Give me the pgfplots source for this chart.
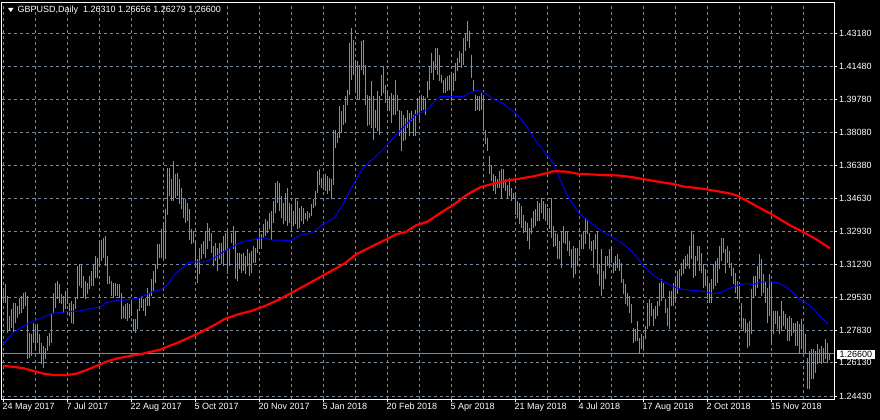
\documentclass[border=0pt]{standalone}
\usepackage{pgfplots}
\usepackage{pgfplotstable}
\pgfplotsset{compat=1.18}
\usepackage{fontspec}
\setmainfont{Liberation Sans}
\definecolor{gridc}{RGB}{119,136,153}
\definecolor{barc}{RGB}{50,205,50}
\definecolor{maB}{RGB}{0,0,255}
\definecolor{maR}{RGB}{255,0,0}
\pgfplotstableread{
i h l
0 1.3002 1.2928
1 1.3019 1.2921
2 1.2959 1.2770
3 1.2856 1.2778
4 1.2890 1.2796
5 1.2925 1.2770
6 1.2925 1.2821
7 1.2907 1.2847
8 1.2950 1.2864
9 1.2959 1.2873
10 1.2976 1.2890
11 1.2981 1.2907
12 1.2959 1.2632
13 1.2770 1.2641
14 1.2761 1.2649
15 1.2821 1.2718
16 1.2804 1.2684
17 1.2813 1.2718
18 1.2761 1.2667
19 1.2718 1.2606
20 1.2701 1.2589
21 1.2692 1.2632
22 1.2753 1.2675
23 1.2770 1.2701
24 1.2873 1.2718
25 1.2976 1.2873
26 1.3028 1.2899
27 1.3036 1.2942
28 1.3019 1.2925
29 1.2968 1.2916
30 1.2959 1.2873
31 1.2985 1.2890
32 1.2993 1.2916
33 1.2925 1.2856
34 1.2933 1.2821
35 1.2916 1.2813
36 1.2950 1.2890
37 1.3114 1.2942
38 1.3122 1.3011
39 1.3122 1.3002
40 1.3062 1.2950
41 1.3036 1.2942
42 1.3028 1.2968
43 1.3062 1.2993
44 1.3088 1.3011
45 1.3122 1.3011
46 1.3165 1.3054
47 1.3157 1.3054
48 1.3243 1.3114
49 1.3251 1.3140
50 1.3260 1.3157
51 1.3269 1.3114
52 1.3165 1.3019
53 1.3062 1.3019
54 1.3036 1.2959
55 1.3028 1.2950
56 1.3028 1.2959
57 1.3019 1.2959
58 1.3019 1.2950
59 1.2976 1.2839
60 1.2907 1.2847
61 1.2916 1.2839
62 1.2925 1.2830
63 1.2916 1.2847
64 1.2925 1.2856
65 1.2839 1.2778
66 1.2839 1.2770
67 1.2890 1.2787
68 1.2950 1.2882
69 1.2959 1.2899
70 1.2942 1.2882
71 1.2950 1.2856
72 1.3002 1.2907
73 1.2976 1.2907
74 1.3045 1.2959
75 1.3088 1.2985
76 1.3122 1.3028
77 1.3226 1.3097
78 1.3226 1.3157
79 1.3303 1.3157
80 1.3337 1.3148
81 1.3406 1.3148
82 1.3621 1.3380
83 1.3621 1.3475
84 1.3561 1.3449
85 1.3656 1.3449
86 1.3587 1.3466
87 1.3595 1.3475
88 1.3561 1.3432
89 1.3518 1.3406
90 1.3466 1.3363
91 1.3458 1.3337
92 1.3441 1.3346
93 1.3406 1.3251
94 1.3303 1.3226
95 1.3294 1.3234
96 1.3251 1.3105
97 1.3148 1.3028
98 1.3208 1.3071
99 1.3226 1.3148
100 1.3243 1.3174
101 1.3294 1.3157
102 1.3337 1.3200
103 1.3312 1.3243
104 1.3286 1.3183
105 1.3217 1.3114
106 1.3234 1.3140
107 1.3208 1.3088
108 1.3234 1.3148
109 1.3234 1.3122
110 1.3269 1.3114
111 1.3286 1.3191
112 1.3294 1.3071
113 1.3200 1.3114
114 1.3286 1.3234
115 1.3320 1.3200
116 1.3294 1.3045
117 1.3183 1.3037
118 1.3183 1.3097
119 1.3174 1.3080
120 1.3183 1.3088
121 1.3165 1.3071
122 1.3200 1.3114
123 1.3183 1.3062
124 1.3191 1.3080
125 1.3217 1.3131
126 1.3208 1.3131
127 1.3260 1.3183
128 1.3312 1.3217
129 1.3277 1.3200
130 1.3329 1.3260
131 1.3355 1.3269
132 1.3346 1.3286
133 1.3389 1.3303
134 1.3398 1.3251
135 1.3449 1.3337
136 1.3544 1.3389
137 1.3553 1.3441
138 1.3544 1.3398
139 1.3475 1.3363
140 1.3441 1.3329
141 1.3492 1.3346
142 1.3518 1.3320
143 1.3441 1.3337
144 1.3432 1.3312
145 1.3398 1.3320
146 1.3466 1.3329
147 1.3449 1.3303
148 1.3415 1.3312
149 1.3423 1.3346
150 1.3415 1.3329
151 1.3389 1.3355
152 1.3398 1.3346
153 1.3389 1.3363
154 1.3432 1.3372
155 1.3458 1.3415
156 1.3501 1.3423
157 1.3604 1.3492
158 1.3613 1.3535
159 1.3570 1.3518
160 1.3578 1.3509
161 1.3587 1.3501
162 1.3578 1.3484
163 1.3570 1.3501
164 1.3561 1.3458
165 1.3819 1.3535
166 1.3819 1.3724
167 1.3802 1.3750
168 1.3939 1.3776
169 1.3914 1.3802
170 1.3948 1.3845
171 1.3991 1.3853
172 1.4025 1.3948
173 1.4266 1.3999
174 1.4344 1.4077
175 1.4283 1.4103
176 1.4163 1.4025
177 1.4172 1.3974
178 1.4154 1.3974
179 1.4275 1.4129
180 1.4283 1.4103
181 1.4154 1.3948
182 1.3999 1.3836
183 1.3991 1.3845
184 1.4068 1.3828
185 1.3991 1.3767
186 1.3922 1.3828
187 1.4017 1.3810
188 1.3991 1.3793
189 1.4103 1.3991
190 1.4146 1.4008
191 1.4051 1.3957
192 1.4017 1.3914
193 1.3991 1.3914
194 1.4008 1.3853
195 1.3999 1.3896
196 1.4077 1.3896
197 1.3999 1.3914
198 1.3922 1.3785
199 1.3914 1.3707
200 1.3896 1.3759
201 1.3879 1.3767
202 1.3922 1.3828
203 1.3905 1.3785
204 1.3914 1.3862
205 1.3896 1.3785
206 1.3922 1.3785
207 1.3982 1.3896
208 1.3991 1.3862
209 1.3999 1.3914
210 1.3991 1.3922
211 1.3982 1.3896
212 1.4068 1.3982
213 1.4146 1.4025
214 1.4215 1.4111
215 1.4172 1.4077
216 1.4240 1.4129
217 1.4240 1.4103
218 1.4206 1.4068
219 1.4103 1.4060
220 1.4077 1.4008
221 1.4086 1.4008
222 1.4094 1.4017
223 1.4103 1.4025
224 1.4111 1.3965
225 1.4111 1.4017
226 1.4163 1.4068
227 1.4189 1.4120
228 1.4223 1.4163
229 1.4215 1.4137
230 1.4292 1.4154
231 1.4318 1.4223
232 1.4378 1.4275
233 1.4326 1.4240
234 1.4206 1.4086
235 1.4077 1.4017
236 1.3999 1.3914
237 1.3991 1.3922
238 1.3991 1.3914
239 1.4008 1.3922
240 1.3999 1.3810
241 1.3819 1.3742
242 1.3776 1.3707
243 1.3681 1.3587
244 1.3638 1.3552
245 1.3587 1.3501
246 1.3578 1.3484
247 1.3561 1.3518
248 1.3604 1.3518
249 1.3613 1.3458
250 1.3613 1.3518
251 1.3561 1.3501
252 1.3535 1.3466
253 1.3570 1.3475
254 1.3518 1.3449
255 1.3492 1.3458
256 1.3492 1.3380
257 1.3449 1.3363
258 1.3441 1.3329
259 1.3423 1.3312
260 1.3380 1.3286
261 1.3346 1.3294
262 1.3337 1.3243
263 1.3312 1.3200
264 1.3363 1.3277
265 1.3398 1.3312
266 1.3406 1.3320
267 1.3449 1.3346
268 1.3441 1.3346
269 1.3466 1.3389
270 1.3449 1.3355
271 1.3432 1.3346
272 1.3415 1.3329
273 1.3415 1.3303
274 1.3466 1.3260
275 1.3320 1.3212
276 1.3286 1.3217
277 1.3277 1.3148
278 1.3243 1.3148
279 1.3294 1.3105
280 1.3320 1.3234
281 1.3294 1.3226
282 1.3294 1.3191
283 1.3243 1.3165
284 1.3200 1.3105
285 1.3217 1.3054
286 1.3208 1.3071
287 1.3208 1.3114
288 1.3251 1.3165
289 1.3277 1.3200
290 1.3294 1.3200
291 1.3363 1.3226
292 1.3346 1.3277
293 1.3286 1.3200
294 1.3243 1.3191
295 1.3251 1.3105
296 1.3277 1.3200
297 1.3294 1.3071
298 1.3122 1.3011
299 1.3200 1.2959
300 1.3088 1.2993
301 1.3165 1.3045
302 1.3165 1.3114
303 1.3200 1.3105
304 1.3217 1.3131
305 1.3131 1.3079
306 1.3165 1.3088
307 1.3174 1.3105
308 1.3148 1.3088
309 1.3131 1.3028
310 1.3045 1.2968
311 1.3019 1.2916
312 1.2976 1.2907
313 1.2959 1.2873
314 1.2916 1.2821
315 1.2796 1.2718
316 1.2787 1.2727
317 1.2830 1.2727
318 1.2744 1.2667
319 1.2761 1.2684
320 1.2753 1.2692
321 1.2804 1.2735
322 1.2925 1.2787
323 1.2942 1.2804
324 1.2925 1.2856
325 1.2890 1.2804
326 1.2907 1.2839
327 1.2933 1.2856
328 1.3028 1.2907
329 1.3045 1.2933
330 1.3028 1.2950
331 1.2942 1.2873
332 1.2899 1.2804
333 1.2985 1.2787
334 1.2985 1.2907
335 1.3028 1.2907
336 1.3054 1.2933
337 1.3088 1.2968
338 1.3097 1.2993
339 1.3131 1.3062
340 1.3148 1.3071
341 1.3165 1.3097
342 1.3174 1.3114
343 1.3217 1.3097
344 1.3294 1.3148
345 1.3277 1.3054
346 1.3165 1.3062
347 1.3217 1.3140
348 1.3217 1.3088
349 1.3183 1.3079
350 1.3122 1.3002
351 1.3097 1.3011
352 1.3062 1.2942
353 1.3028 1.2925
354 1.3045 1.2925
355 1.3122 1.2993
356 1.3140 1.3011
357 1.3157 1.3028
358 1.3217 1.3097
359 1.3260 1.3140
360 1.3260 1.3183
361 1.3200 1.3079
362 1.3217 1.3131
363 1.3191 1.3105
364 1.3131 1.3062
365 1.3105 1.3019
366 1.3079 1.2976
367 1.3036 1.2942
368 1.3011 1.2925
369 1.2925 1.2787
370 1.2847 1.2778
371 1.2839 1.2770
372 1.2821 1.2692
373 1.2830 1.2701
374 1.2993 1.2761
375 1.3062 1.2950
376 1.3062 1.2959
377 1.3114 1.3002
378 1.3174 1.3045
379 1.3148 1.2959
380 1.3071 1.2976
381 1.3036 1.2925
382 1.3002 1.2821
383 1.3071 1.2856
384 1.3036 1.2718
385 1.2882 1.2761
386 1.2882 1.2813
387 1.2882 1.2787
388 1.2856 1.2761
389 1.2933 1.2778
390 1.2882 1.2804
391 1.2865 1.2787
392 1.2847 1.2727
393 1.2856 1.2727
394 1.2847 1.2753
395 1.2821 1.2770
396 1.2821 1.2701
397 1.2830 1.2701
398 1.2813 1.2667
399 1.2839 1.2684
400 1.2804 1.2667
401 1.2761 1.2658
402 1.2641 1.2477
403 1.2675 1.2477
404 1.2684 1.2529
405 1.2684 1.2529
406 1.2675 1.2563
407 1.2710 1.2606
408 1.2684 1.2615
409 1.2701 1.2606
410 1.2692 1.2615
411 1.2735 1.2632
412 1.2718 1.2615
413 1.26656 1.26279
}\bars
\begin{document}
\begin{tikzpicture}
\fill[black] (0,0) rectangle (880bp,420bp);
\useasboundingbox (0,0) rectangle (880bp,420bp);
\begin{axis}[
  at={(1.5bp,21bp)}, anchor=south west,
  scale only axis, width=832.5bp, height=397bp,
  xmin=-0.75, xmax=415.5, ymin=1.2427, ymax=1.4478,
  axis line style={white, line width=0.8bp},
  tick style={white, line width=0.8bp},
  tick align=outside, major tick length=3bp, minor tick length=0pt,
  xtick pos=left, ytick pos=right, yticklabel pos=right,
  xtick={0,32,...,384},
  xticklabels={24 May 2017,7 Jul 2017,22 Aug 2017,5 Oct 2017,20 Nov 2017,5 Jan 2018,20 Feb 2018,5 Apr 2018,21 May 2018,4 Jul 2018,17 Aug 2018,2 Oct 2018,15 Nov 2018},
  minor xtick={16,48,...,400},
  ytick={1.24430,1.26135,1.27839,1.29544,1.31248,1.32953,1.34657,1.36362,1.38066,1.39771,1.41475,1.43180},
  yticklabels={1.24430,1.26130,1.27830,1.29530,1.31230,1.32930,1.34630,1.36380,1.38080,1.39780,1.41480,1.43180},
  grid=both,
  major grid style={gridc, dash pattern=on 3bp off 3bp, line width=0.8bp},
  minor grid style={gridc, dash pattern=on 3bp off 3bp, line width=0.8bp},
  ticklabel style={white, font=\fontsize{9bp}{10bp}\selectfont},
  xticklabel style={anchor=north west, inner sep=1bp, xshift=-1.5bp},
  yticklabel style={anchor=west, inner sep=1bp, xshift=1bp},
]
\draw[gridc, line width=0.8bp] (axis cs:-0.75,1.266) -- (axis cs:415.5,1.266);
\addplot[draw=none, mark=none,
  error bars/.cd, y dir=plus, y explicit, error mark=none,
  error bar style={draw=barc, line width=1bp, solid}]
  table[x=i, y=l, y error expr=\thisrow{h}-\thisrow{l}] {\bars};
\addplot[maB, line width=1bp, mark=none] coordinates {
(0,1.2710) (5.2,1.2770) (10.2,1.2804) (15.2,1.2830) (20.2,1.2851) (25.2,1.2870) (31.8,1.2878) (38.5,1.2882) (43.5,1.2894) (48.5,1.2902) (51.8,1.2925) (56.8,1.2937) (61.8,1.2938) (68.5,1.2950)
(74.2,1.2980) (79.2,1.2994) (82.5,1.3019) (85.8,1.3071) (89.2,1.3100) (92.5,1.3131) (95.8,1.3136) (100.8,1.3136) (105.8,1.3157) (110.8,1.3191) (115.8,1.3220) (119.2,1.3238) (124.2,1.3248) (127.5,1.3257) (130.8,1.3260) (134.2,1.3248) (137.5,1.3248)
(144,1.3246) (148.2,1.3272) (154.8,1.3286) (159.8,1.3329) (165.7,1.3363) (169.8,1.3432) (174.8,1.3527) (179.8,1.3621) (186.5,1.3681) (191.5,1.3733) (196.5,1.3793) (201.5,1.3845) (206.5,1.3896)
(208.8,1.3905) (212.2,1.3922) (215.5,1.3962) (218.8,1.3991) (222.2,1.3991) (225.5,1.3988) (230.5,1.3991) (233,1.4008) (236.3,1.4020) (238.8,1.4017) (242.2,1.3999) (245.5,1.3974) (250.5,1.3952) (253.8,1.3922) (257.2,1.3896) (260.5,1.3853) (263.8,1.3802) (267.2,1.3750) (270.5,1.3707) (273.8,1.3664) (275.5,1.3638)
(277.8,1.3578) (282.8,1.3466) (287.8,1.3389) (292.8,1.3346) (296.2,1.3320) (299.5,1.3294) (304.5,1.3265) (309.5,1.3231) (314.5,1.3191) (317.8,1.3148) (321.2,1.3105) (324.5,1.3071) (327.8,1.3048) (331.2,1.3028) (334.5,1.3011) (337.8,1.2997) (344.5,1.2988)
(348.5,1.2985) (351.8,1.2980) (355.2,1.2971) (358.5,1.2976) (361.8,1.2993) (365.2,1.3005) (368.5,1.3019) (371.8,1.3023) (375.2,1.3019) (378.5,1.3031) (381.8,1.3033) (385.2,1.3031) (388.5,1.3023) (391.8,1.3002) (395.2,1.2976) (398.5,1.2942) (401.8,1.2921) (405.2,1.2894) (408.5,1.2856) (412.7,1.2813)
};
\addplot[maR, line width=2.2bp, mark=none] coordinates {
(0,1.2598) (5.2,1.2593) (10.2,1.2586) (15.2,1.2572) (20.2,1.2558) (25.2,1.2551) (31.8,1.2551) (36.8,1.2558) (41.8,1.2577) (46.8,1.2598) (51.8,1.2620) (56.8,1.2636) (61.8,1.2646) (68.5,1.2658)
(78.5,1.2682) (88.5,1.2723) (98.5,1.2770) (106,1.2811) (111.2,1.2842) (117.5,1.2864) (124.2,1.2882) (130.8,1.2907) (137.5,1.2938)
(148.5,1.2999) (159.5,1.3062) (170.7,1.3126) (176.5,1.3174) (181.5,1.3200) (186.5,1.3226) (191.5,1.3251) (196.5,1.3277) (201.5,1.3291) (206.5,1.3324)
(212.2,1.3343) (218.8,1.3389) (225.5,1.3432) (232.2,1.3484) (238.8,1.3522) (245.5,1.3540) (252.2,1.3556) (258.8,1.3566) (265.5,1.3578) (272.2,1.3595) (275.5,1.3604)
(281.2,1.3602) (287.8,1.3590) (294.5,1.3587) (301.2,1.3583) (307.8,1.3582) (314.5,1.3573) (321.2,1.3561) (327.8,1.3549) (334.5,1.3539) (341.2,1.3523) (344.5,1.3520)
(350.2,1.3513) (356.8,1.3501) (363.5,1.3489) (366.8,1.3478) (370.2,1.3461) (376.8,1.3423) (383.5,1.3386) (388.5,1.3355) (393.5,1.3324) (400.2,1.3289) (406.8,1.3251) (413.5,1.3205)
};
\end{axis}
\fill[white] (8bp,412bp) -- (13.5bp,412bp) -- (10.75bp,408bp) -- cycle;
\node[anchor=west, text=white, inner sep=0pt, font=\fontsize{9bp}{10bp}\selectfont] at (17.5bp,410bp) {GBPUSD,Daily\ \ 1.26310 1.26656 1.26279 1.26600};
\node[anchor=west, fill=white, text=black, inner xsep=3bp, inner ysep=0pt, minimum height=9.5bp, font=\fontsize{9bp}{10bp}\selectfont] at (836.5bp,65.3bp) {1.26600};
\end{tikzpicture}
\end{document}
